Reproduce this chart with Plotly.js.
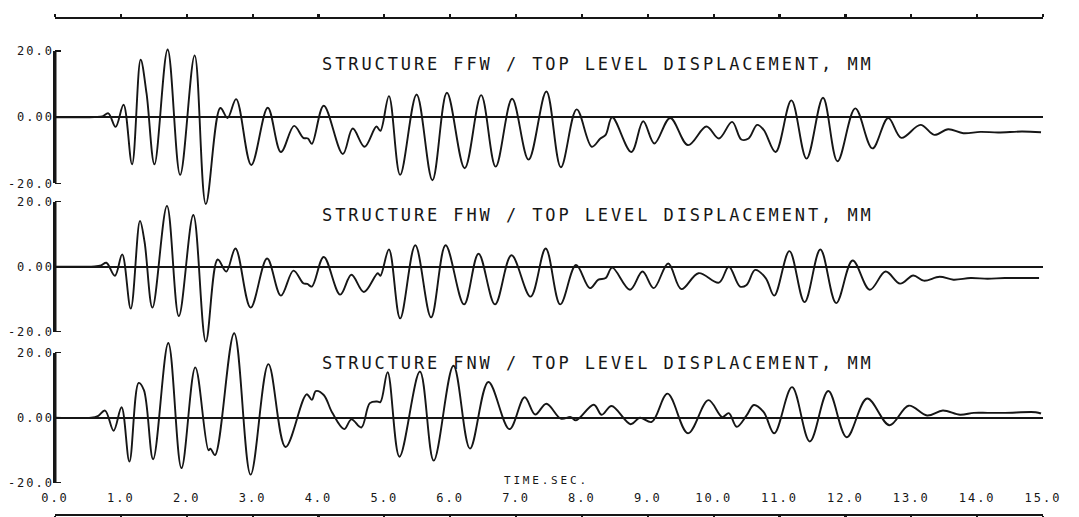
<!DOCTYPE html>
<html>
<head>
<meta charset="utf-8">
<script src="https://cdn.plot.ly/plotly-3.0.1.min.js"></script>
<style>
html, body { margin: 0; padding: 0; background: #fff; }
#chart { width: 1079px; height: 517px; }
g[class*="tick"] text { letter-spacing: 2px; }
</style>
</head>
<body>
<div id="chart"></div>
<script>
// ---- data (time in s, displacement in mm) ----
const timeTicks = [0,1,2,3,4,5,6,7,8,9,10,11,12,13,14,15];
const timeTickLabels = ["0.0","1.0","2.0","3.0","4.0","5.0","6.0","7.0","8.0","9.0","10.0","11.0","12.0","13.0","14.0","15.0"];
const dispTicks = [-20, 0, 20];
const dispTickLabels = ["-20.0", "0.00", "20.0"];

const panelTitles = [
  "STRUCTURE FFW / TOP LEVEL DISPLACEMENT, MM",
  "STRUCTURE FHW / TOP LEVEL DISPLACEMENT, MM",
  "STRUCTURE FNW / TOP LEVEL DISPLACEMENT, MM"
];
const xAxisLabel = "TIME.SEC.";

const tFFW = [0,0.60,0.72,0.81,0.92,1.04,1.17,1.30,1.39,1.51,1.71,1.90,2.12,2.29,2.51,2.62,2.75,2.98,3.23,3.43,3.63,3.77,3.84,3.90,4.08,4.37,4.52,4.70,4.88,4.94,5.07,5.24,5.49,5.73,5.95,6.22,6.47,6.69,6.94,7.19,7.46,7.68,7.92,8.15,8.28,8.36,8.46,8.75,8.93,9.10,9.34,9.61,9.89,10.08,10.28,10.42,10.53,10.66,10.76,10.94,11.18,11.41,11.66,11.88,12.15,12.41,12.65,12.85,13.14,13.35,13.56,13.79,14.05,14.32,14.68,14.97];
const vFFW = [0,0.1,0.3,1.2,-2.9,3.8,-14.2,17.4,7.2,-14.2,20.5,-17.4,18.7,-26.2,2.8,-0.2,5.5,-14.4,2.9,-10.5,-2.6,-6.2,-6.4,-8.0,3.5,-11.1,-3.4,-8.9,-2.8,-4.1,6.4,-17.4,6.9,-19.0,7.4,-15.4,6.7,-14.9,5.6,-12.8,7.8,-15.1,2.4,-8.9,-6.4,-5.3,0,-10.5,-1.2,-7.9,-0.2,-8.4,-2.8,-6.4,-1.4,-6.7,-6.4,-2.3,-3.8,-10.5,5.1,-12.5,5.9,-13.3,2.7,-9.4,-0.2,-6.2,-2.3,-5.3,-3.6,-4.8,-4.4,-4.6,-4.3,-4.5];

const tFHW = [0,0.60,0.70,0.78,0.91,1.02,1.15,1.29,1.36,1.48,1.70,1.88,2.10,2.29,2.47,2.60,2.74,2.97,3.22,3.43,3.62,3.77,3.83,3.90,4.08,4.33,4.50,4.69,4.90,4.94,5.07,5.24,5.47,5.71,5.93,6.21,6.43,6.68,6.93,7.22,7.45,7.67,7.91,8.12,8.25,8.36,8.46,8.73,8.92,9.09,9.31,9.51,9.77,10.08,10.23,10.40,10.50,10.63,10.79,10.92,11.15,11.38,11.62,11.86,12.11,12.37,12.61,12.83,13.03,13.19,13.43,13.64,13.90,14.16,14.42,14.94];
const vFHW = [0,0.1,0.4,1.2,-2.8,3.8,-12.9,14.1,7.6,-12.6,18.7,-15.2,15.9,-23.0,2.2,-1.5,5.6,-12.6,2.5,-8.9,-1.2,-5.1,-5.3,-6.1,3.0,-8.6,-2.5,-7.8,-2.0,-2.8,5.3,-15.9,6.6,-15.6,6.6,-11.6,4.0,-11.6,3.5,-9.2,5.6,-11.6,0.5,-6.6,-4.0,-3.5,-0.3,-7.1,-1.5,-6.6,1.0,-6.9,-2.0,-4.9,0,-6.1,-5.6,-1.0,-3.5,-8.9,4.8,-10.9,5.3,-11.2,1.9,-7.1,-1.5,-5.2,-2.7,-4.3,-3.1,-4.0,-3.5,-3.7,-3.5,-3.5];

const tFNW = [0,0.55,0.65,0.76,0.89,1.01,1.13,1.27,1.35,1.49,1.72,1.92,2.13,2.33,2.36,2.43,2.72,2.97,3.24,3.50,3.82,3.90,3.96,4.08,4.21,4.39,4.50,4.65,4.78,4.89,4.94,5.05,5.23,5.54,5.75,6.05,6.30,6.58,6.90,7.13,7.29,7.46,7.68,7.83,7.91,8.18,8.30,8.45,8.74,8.88,9.06,9.30,9.61,9.92,10.13,10.23,10.35,10.50,10.61,10.76,10.92,11.19,11.46,11.74,12.02,12.33,12.67,12.96,13.24,13.48,13.74,13.95,14.16,14.42,14.89,14.97];
const vFNW = [0,0,0.5,2.2,-4.0,3.2,-13.5,10.7,8.5,-12.8,23.0,-15.5,15.5,-10.0,-9.5,-11.5,26.0,-17.5,16.5,-9.0,7.2,5.5,8.2,7.0,1.5,-3.5,-0.5,-3.0,4.5,5.0,4.8,14.0,-12.0,14.2,-13.2,16.0,-9.5,11.0,-3.5,6.3,1.0,4.3,-0.3,0.2,-0.8,4.0,0.9,3.6,-2.0,0,-1.3,7.4,-4.8,5.4,0.2,1.4,-2.8,0.7,3.9,1.7,-4.8,9.4,-7.3,8.2,-6.0,5.9,-2.3,3.7,0.7,2.2,0.9,1.5,1.5,1.5,1.7,1.3];

// ---- drawing ----
const INK = "#161616";
const mono = "DejaVu Sans Mono, Liberation Mono, monospace";
const panelDomains = [[0.5984, 0.998], [0.3014, 0.6938], [0.0041, 0.3899]];
const panelRanges = [[-30, 30], [-30, 30], [-29, 30]];
const series = [[tFFW, vFFW], [tFHW, vFHW], [tFNW, vFNW]];
const dataAxes = ["y", "y2", "y3"];
const frameAxes = ["y4", "y5", "y6"];

const traces = [];
series.forEach(([t, v], i) => {
  // vertical axis segment (-20 .. +20) at time 0
  traces.push({
    type: "scatter", mode: "lines", xaxis: "x", yaxis: dataAxes[i],
    x: [timeTicks[0], timeTicks[0]], y: [dispTicks[0], dispTicks[dispTicks.length - 1]],
    line: { color: INK, width: 3 }, hoverinfo: "skip", showlegend: false
  });
  traces.push({
    type: "scatter", mode: "lines", x: t, y: v, xaxis: "x", yaxis: dataAxes[i],
    line: { color: INK, width: 1.9, shape: "spline", smoothing: 1 },
    hoverinfo: "skip", showlegend: false
  });
  // empty trace registering the ±20 frame axis of this panel
  traces.push({ type: "scatter", mode: "lines", x: [], y: [], xaxis: "x", yaxis: frameAxes[i], showlegend: false });
});
// empty traces registering the top and bottom time-axis lines
traces.push({ type: "scatter", mode: "lines", x: [], y: [], xaxis: "x2", yaxis: "y", showlegend: false });
traces.push({ type: "scatter", mode: "lines", x: [], y: [], xaxis: "x3", yaxis: "y3", showlegend: false });

function dispAxis(domain, range) {
  return {
    domain: domain, range: range, anchor: "x", automargin: false,
    showline: false, showgrid: false,
    zeroline: true, zerolinecolor: INK, zerolinewidth: 1.7,
    tickmode: "array", tickvals: dispTicks, ticktext: dispTickLabels,
    ticks: "inside", ticklen: 6, tickwidth: 1.4, tickcolor: INK,
    tickfont: { family: mono, size: 12, color: INK }
  };
}

// axis carrying only the vertical line between -20 and +20
function frameAxis(domain, range) {
  const lo = dispTicks[0], hi = dispTicks[dispTicks.length - 1];
  const f = v => domain[0] + (v - range[0]) / (range[1] - range[0]) * (domain[1] - domain[0]);
  return {
    domain: [f(lo), f(hi)], range: [lo, hi], anchor: "x", automargin: false,
    showline: true, linecolor: INK, linewidth: 1.7,
    showgrid: false, zeroline: false, ticks: "", showticklabels: false
  };
}

const timeRange = [timeTicks[0], timeTicks[timeTicks.length - 1]];
const timeLineAxis = {
  range: timeRange, showgrid: false, zeroline: false, automargin: false,
  showline: true, linecolor: INK, linewidth: 1.6,
  tickmode: "array", tickvals: timeTicks,
  ticks: "outside", ticklen: 3, tickwidth: 2.2, tickcolor: INK,
  showticklabels: false, overlaying: "x", anchor: "free"
};

const layout = {
  width: 1079, height: 517,
  margin: { l: 55, r: 36, t: 17, b: 3 },
  paper_bgcolor: "#fff", plot_bgcolor: "rgba(0,0,0,0)",
  showlegend: false,
  // labelled time axis (no line), sitting just above the bottom line
  xaxis: {
    range: timeRange, anchor: "free", position: 0.0503, automargin: false,
    showline: false, showgrid: false, zeroline: false, ticks: "",
    tickmode: "array", tickvals: timeTicks, ticktext: timeTickLabels,
    tickfont: { family: mono, size: 12, color: INK }
  },
  xaxis2: Object.assign({}, timeLineAxis, { side: "top", position: 1 }),
  xaxis3: Object.assign({}, timeLineAxis, { side: "bottom", position: 0 }),
  annotations: panelTitles.map((txt, i) => ({
    text: '<span style="letter-spacing:2.9px">' + txt + '</span>',
    xref: "paper", yref: "paper", x: 0.2682, y: [0.9054, 0.6026, 0.3038][i],
    xanchor: "left", yanchor: "middle", showarrow: false,
    font: { family: mono, size: 17, color: INK }
  })).concat([{
    text: '<span style="letter-spacing:2.8px">' + xAxisLabel + '</span>',
    xref: "paper", yref: "paper", x: 0.4521, y: 0.0684,
    xanchor: "left", yanchor: "middle", showarrow: false,
    font: { family: mono, size: 11, color: INK }
  }])
};
dataAxes.forEach((ya, i) => {
  layout[ya.replace("y", "yaxis")] = dispAxis(panelDomains[i], panelRanges[i]);
  layout[frameAxes[i].replace("y", "yaxis")] = frameAxis(panelDomains[i], panelRanges[i]);
});

Plotly.newPlot("chart", traces, layout, { staticPlot: true, displayModeBar: false });
</script>
</body>
</html>
